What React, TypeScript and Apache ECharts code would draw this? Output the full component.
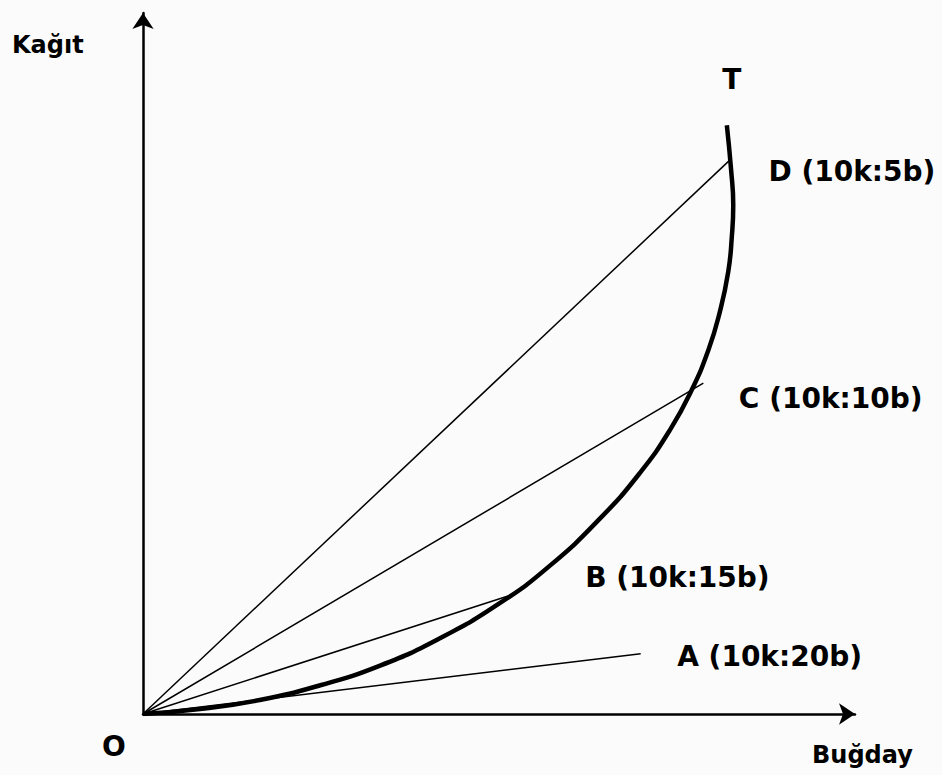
import React, { useEffect, useRef } from "react";
import * as echarts from "echarts";

// Transformation curve (Buğday on x, Kağıt on y), arbitrary units 0..100
const curveX = [0, 8.0, 16.4, 24.9, 33.3, 41.7, 50.1, 57.2, 64.2, 69.8, 74.0, 77.1, 79.4, 81.0, 82.2, 82.7, 82.9, 82.6, 82.0];
const curveY = [0, 0.7, 2.0, 4.1, 6.9, 10.8, 15.8, 21.2, 27.9, 34.4, 40.5, 46.3, 51.9, 57.3, 63.1, 68.1, 72.6, 77.6, 84.0];
const curveLabel = "T";

// Rays from the origin
const rayNames = ["A (10k:20b)", "B (10k:15b)", "C (10k:10b)", "D (10k:5b)"];
const rayEndX = [69.9, 51.5, 78.7, 82.3];
const rayEndY = [8.6, 16.9, 47.2, 78.9];

const axisNames = { x: "Buğday", y: "Kağıt", origin: "O" };

// label placement (styles, not data)
const rayLabelDistance = [36, 75, 35, 39];
const rayLabelOffset: [number, number][] = [[0, 3], [0, -18], [0, 15], [0, 11]];

const FONT = "DejaVu Sans";

export default function App() {
  const ref = useRef<HTMLDivElement>(null);
  useEffect(() => {
    if (!ref.current) return;
    const chart = echarts.init(ref.current, undefined, { renderer: "svg" });
    const textStyle = { fontFamily: FONT, fontWeight: "bold" as const, color: "#000" };
    const hiddenSymbol = { color: "rgba(0,0,0,0)", borderWidth: 0 };

    const curveData = curveX.map((x, i) => {
      const item: any = { value: [x, curveY[i]] };
      if (i === curveX.length - 1) {
        item.label = {
          show: true,
          formatter: curveLabel,
          position: "top",
          distance: 31,
          offset: [5, 0],
          fontSize: 28,
          ...textStyle,
        };
      }
      return item;
    });

    const raySeries = rayNames.map((name, i) => ({
      type: "line",
      name,
      symbol: "circle",
      symbolSize: 1,
      showSymbol: true,
      itemStyle: hiddenSymbol,
      silent: true,
      lineStyle: { color: "#000", width: 1.5 },
      data: [
        { value: [0, 0] },
        {
          value: [rayEndX[i], rayEndY[i]],
          label: {
            show: true,
            formatter: name,
            position: "right",
            distance: rayLabelDistance[i],
            offset: rayLabelOffset[i],
            fontSize: 28,
            ...textStyle,
          },
        },
      ],
      z: 2,
    }));

    chart.setOption({
      animation: false,
      backgroundColor: "#fbfbfb",
      grid: { left: 143, right: 87, top: 13, bottom: 61, containLabel: false },
      xAxis: {
        type: "value",
        min: 0,
        max: 100,
        axisLine: {
          show: true,
          onZero: false,
          symbol: ["none", "arrow"],
          symbolSize: [16, 16],
          lineStyle: { color: "#000", width: 2.5 },
        },
        axisTick: { show: false },
        axisLabel: { show: false },
        splitLine: { show: false },
      },
      yAxis: {
        type: "value",
        min: 0,
        max: 100,
        axisLine: {
          show: true,
          onZero: false,
          symbol: ["none", "arrow"],
          symbolSize: [16, 16],
          lineStyle: { color: "#000", width: 2.5 },
        },
        axisTick: { show: false },
        axisLabel: { show: false },
        splitLine: { show: false },
      },
      series: [
        ...raySeries,
        {
          type: "line",
          name: "curve",
          symbol: "circle",
          symbolSize: 1,
          showSymbol: true,
          itemStyle: hiddenSymbol,
          silent: true,
          smooth: 0.5,
          lineStyle: { color: "#000", width: 4.5 },
          data: curveData,
          z: 3,
        },
      ],
      graphic: [
        {
          type: "text",
          left: 12,
          top: 33,
          style: { text: axisNames.y, font: `bold 24px "${FONT}"`, fill: "#000" },
        },
        {
          type: "text",
          left: 812,
          top: 743,
          style: { text: axisNames.x, font: `bold 24px "${FONT}"`, fill: "#000" },
        },
        {
          type: "text",
          left: 102,
          top: 732,
          style: { text: axisNames.origin, font: `bold 28px "${FONT}"`, fill: "#000" },
        },
      ],
    });
    return () => chart.dispose();
  }, []);
  return (
    <div
      ref={ref}
      style={{ position: "fixed", left: 0, top: 0, width: 942, height: 775 }}
    />
  );
}
